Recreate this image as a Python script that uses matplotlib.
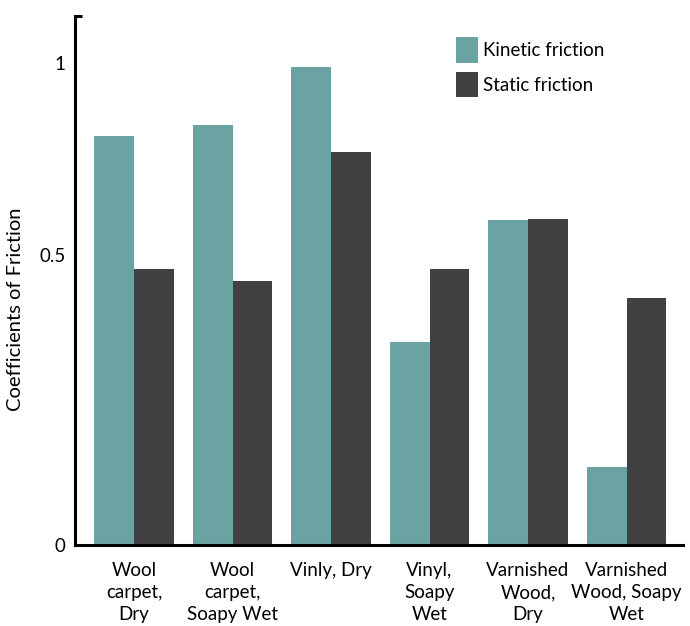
import matplotlib.pyplot as plt
import numpy as np

plt.rcParams['font.family'] = ['Lato', 'DejaVu Sans']

surfaces = ['Wool\ncarpet,\nDry', 'Wool\ncarpet,\nSoapy Wet', 'Vinly, Dry',
            'Vinyl,\nSoapy\nWet', 'Varnished\nWood,\nDry', 'Varnished\nWood, Soapy\nWet']
kinetic = [0.705, 0.724, 0.824, 0.350, 0.560, 0.134]
static = [0.476, 0.455, 0.678, 0.476, 0.562, 0.426]

teal = '#6ba3a2'
dark = '#414143'

fig = plt.figure(figsize=(6.9, 6.26), dpi=100)
ax = fig.add_axes([0.1087, 0.1294, 0.8812, 0.845])

x = np.arange(len(surfaces))
w = 0.405
ax.bar(x - w / 2, kinetic, w, color=teal, label='Kinetic friction')
ax.bar(x + w / 2, static, w, color=dark, label='Static friction')

ax.set_xlim(-0.6, 5.574)
ax.set_ylim(0, 0.912)

for s in ['top', 'right']:
    ax.spines[s].set_visible(False)
ax.spines['left'].set_linewidth(2.2)
ax.spines['bottom'].set_linewidth(2.2)

ax.set_xticks(x, surfaces, fontsize=13.5, linespacing=1.38)
ax.tick_params(axis='x', length=0, pad=12)

# tick labels (the "1" label sits without a tick mark)
ax.set_yticks([0, 0.5, 0.831], ['0', '0.5', '1'], fontsize=13.5)
ax.tick_params(axis='y', which='major', length=0, pad=7)
ax.set_yticks([0.5, 0.912], minor=True)
ax.tick_params(axis='y', which='minor', length=5, width=2.2, direction='in')

ax.set_ylabel('Coefficients of Friction', fontsize=14.5)
ax.yaxis.set_label_coords(-0.084, 0.446)

ax.legend(loc='upper left', bbox_to_anchor=(0.627, 0.96), frameon=False,
          fontsize=13.5, handlelength=1.15, handleheight=1.75,
          handletextpad=0.3, labelspacing=0.45, borderaxespad=0, borderpad=0)

fig.savefig('out.png', dpi=100)
